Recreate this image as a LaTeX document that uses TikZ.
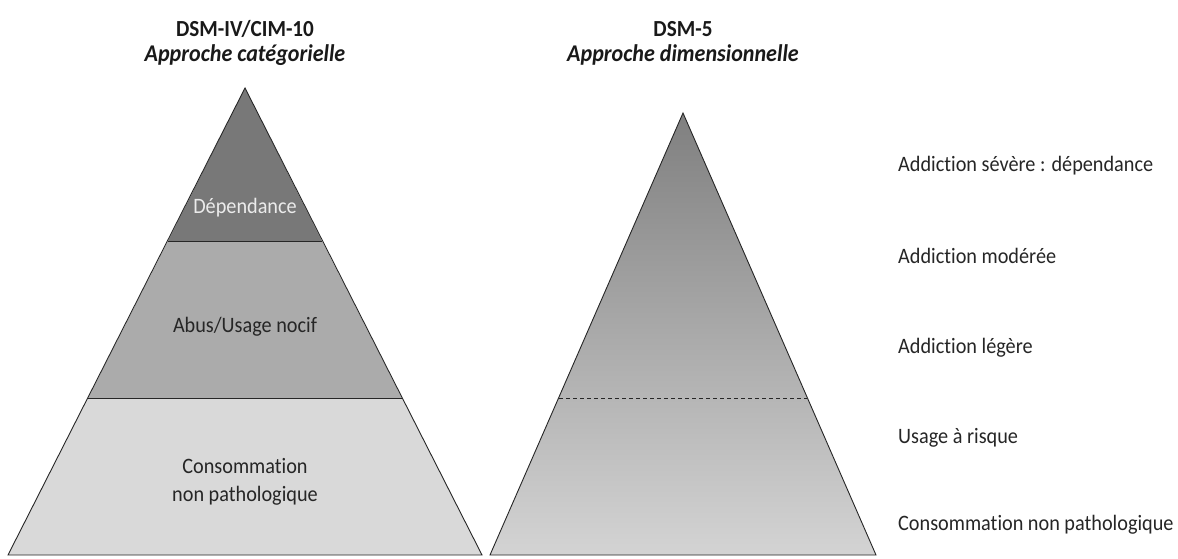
\documentclass[tikz,border=0pt]{standalone}
\usepackage{fontspec}
\setmainfont[Ligatures=NoCommon, FakeStretch=0.92]{Carlito}
\begin{document}
\begin{tikzpicture}[x=1pt,y=-1pt,
  lbl/.style={font=\fontsize{22}{28}\selectfont, text=black!85, inner sep=0pt},
  ttl/.style={font=\bfseries\fontsize{23}{27}\selectfont, text=black!90, inner sep=0pt},
  sub/.style={font=\bfseries\itshape\fontsize{24}{28}\selectfont, text=black!90, inner sep=0pt},
  edge/.style={draw=black!85, line width=0.9pt, line join=miter},
  side/.style={lbl, anchor=west}]
\useasboundingbox (0,0) rectangle (1178,558);
% left pyramid coordinates
\coordinate (LA) at (245,88);
\coordinate (L1l) at (168,241); \coordinate (L1r) at (322,241);
\coordinate (L2l) at (88,398);  \coordinate (L2r) at (402,398);
\coordinate (L3l) at (8,555);   \coordinate (L3r) at (482,555);
\fill[black!53] (LA) -- (L1r) -- (L1l) -- cycle;
\fill[black!33] (L1l) -- (L1r) -- (L2r) -- (L2l) -- cycle;
\fill[black!15] (L2l) -- (L2r) -- (L3r) -- (L3l) -- cycle;
\draw[edge] (LA) -- (L3r) -- (L3l) -- cycle;
\draw[edge] (L1l) -- (L1r);
\draw[edge] (L2l) -- (L2r);
% right pyramid coordinates
\coordinate (RA) at (683,113);
\coordinate (Rdl) at (559,398); \coordinate (Rdr) at (807,398);
\coordinate (RBl) at (490,555); \coordinate (RBr) at (876,555);
\shade[top color=black!50, bottom color=black!17] (RA) -- (RBr) -- (RBl) -- cycle;
\draw[edge] (RA) -- (RBr) -- (RBl) -- cycle;
\draw[black!85, line width=0.9pt, dash pattern=on 4pt off 3pt] (Rdl) -- (Rdr);
% titles
\node[ttl] (t1) at (245,29) {DSM-IV/CIM-10};
\node[sub] (s1) at (245,55) {Approche catégorielle};
\node[ttl] (t2) at (683,29) {DSM-5};
\node[sub] (s2) at (683,55) {Approche dimensionnelle};
% left labels
\node[lbl, text=white!92!black] (dep) at (245,208) {Dépendance};
\node[lbl] (abus) at (245,327) {Abus/Usage nocif};
\node[lbl, align=center] (cons) at (245,482) {Consommation\\non pathologique};
% right labels
\node[side] (r1) at (898,166) {Addiction sévère : dépendance};
\node[side] (r2) at (898,256) {Addiction modérée};
\node[side] (r3) at (898,348) {Addiction légère};
\node[side] (r4) at (898,438) {Usage à risque};
\node[side] (r5) at (898,525) {Consommation non pathologique};
\end{tikzpicture}
\end{document}
